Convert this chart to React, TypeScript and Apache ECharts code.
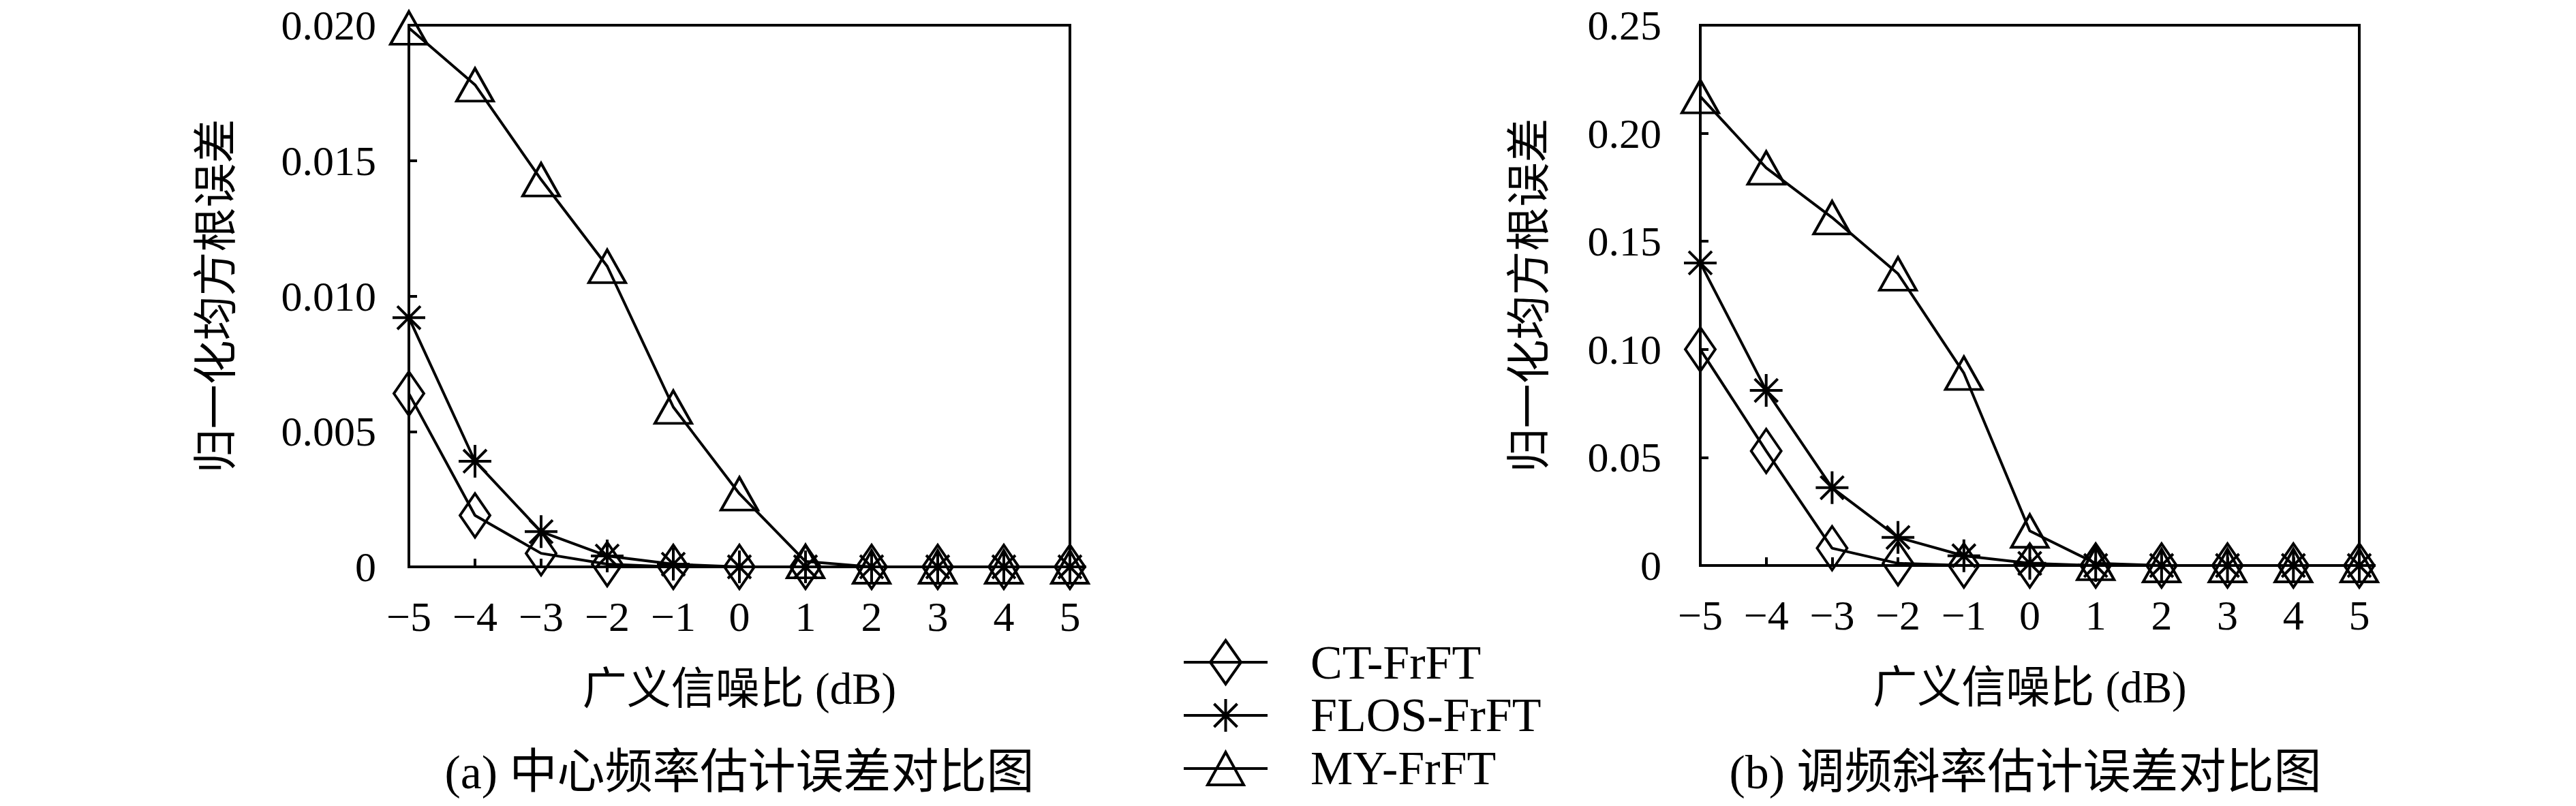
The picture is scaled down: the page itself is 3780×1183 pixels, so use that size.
import React, { useEffect, useRef } from "react";
import * as echarts from "echarts";

const snr = [-5, -4, -3, -2, -1, 0, 1, 2, 3, 4, 5];
const seriesNames = ["CT-FrFT", "FLOS-FrFT", "MY-FrFT"];

// (a) centre frequency estimation error
const ctA = [0.0064, 0.0019, 0.0005, 0.0001, 0, 0, 0, 0, 0, 0, 0];
const flosA = [0.0092, 0.0039, 0.0013, 0.0004, 0.0001, 0, 0, 0, 0, 0, 0];
const myA = [0.0199, 0.0178, 0.0143, 0.0111, 0.0059, 0.0027, 0.0002, 0, 0, 0, 0];

// (b) chirp rate estimation error
const ctB = [0.1, 0.053, 0.008, 0.001, 0, 0, 0, 0, 0, 0, 0];
const flosB = [0.14, 0.081, 0.036, 0.013, 0.0045, 0.001, 0, 0, 0, 0, 0];
const myB = [0.217, 0.184, 0.161, 0.135, 0.089, 0.016, 0.001, 0, 0, 0, 0];

const yTitle = "归一化均方根误差";
const xTitle = "广义信噪比 (dB)";
const captionA = "(a) 中心频率估计误差对比图";
const captionB = "(b) 调频斜率估计误差对比图";

const FONT = "'Liberation Serif', 'Noto Sans CJK SC', serif";

const ASTERISK =
  "path://M0,-1L0,1M-1,0L1,0M-0.707,-0.707L0.707,0.707M-0.707,0.707L0.707,-0.707";
const LEG_DIAMOND = "path://M0,32L123,32M61.5,0L84,32L61.5,64L39,32Z";
const LEG_ASTERISK = "path://M0,24L123,24M61.5,0L61.5,48M44.5,7L78.5,41M44.5,41L78.5,7";
const LEG_TRIANGLE = "path://M0,24L123,24M61.5,0L88,48L35,48Z";

const symbols: any[] = ["diamond", ASTERISK, "triangle"];
const symbolSizes: any[] = [
  [44, 64],
  [48, 48],
  [54, 48],
];

function pairs(vals: number[]) {
  return snr.map((x, i) => [x, vals[i]]);
}

export default function App() {
  const ref = useRef<HTMLDivElement>(null);
  useEffect(() => {
    document.body.style.margin = "0";
    if (!ref.current) return;
    const chart = echarts.init(ref.current, null, { renderer: "svg" });

    const axisLine = { show: true, onZero: false, lineStyle: { color: "#000", width: 4 } };
    const axisTick = { show: true, inside: true, length: 12, lineStyle: { color: "#000", width: 4 } };
    const labelStyle = { color: "#000", fontFamily: FONT, fontSize: 62, lineHeight: 54 };
    const nameStyle = { color: "#000", fontFamily: FONT, fontSize: 65 };

    const xAxis = (gridIndex: number) => ({
      type: "value",
      gridIndex,
      min: -5,
      max: 5,
      interval: 1,
      axisLine,
      axisTick,
      splitLine: { show: false },
      axisLabel: {
        ...labelStyle,
        margin: 46,
        formatter: (v: number) => String(v).replace("-", "\u2212"),
      },
      name: xTitle,
      nameLocation: "middle",
      nameGap: 146,
      nameTextStyle: nameStyle,
    });

    const yAxis = (gridIndex: number, max: number, interval: number, digits: number, margin: number, nameGap: number) => ({
      type: "value",
      gridIndex,
      min: 0,
      max,
      interval,
      axisLine,
      axisTick,
      splitLine: { show: false },
      axisLabel: {
        ...labelStyle,
        margin,
        formatter: (v: number) => (v === 0 ? "0" : v.toFixed(digits)),
      },
      name: yTitle,
      nameLocation: "middle",
      nameGap,
      nameRotate: 90,
      nameTextStyle: nameStyle,
    });

    const mk = (name: string, k: number, vals: number[], idx: number) => ({
      name,
      type: "line",
      xAxisIndex: idx,
      yAxisIndex: idx,
      data: pairs(vals),
      clip: false,
      symbol: symbols[k],
      symbolSize: symbolSizes[k],
      showAllSymbol: true,
      lineStyle: { color: "#000", width: 4 },
      itemStyle: { color: "rgba(0,0,0,0)", borderColor: "#000", borderWidth: 4 },
      emphasis: { disabled: true },
      z: 2 + k,
    });

    const option: any = {
      animation: false,
      backgroundColor: "#fff",
      grid: [
        { left: 600, top: 37, width: 970, height: 795, show: true, borderColor: "#000", borderWidth: 4 },
        { left: 2495, top: 37, width: 967, height: 793, show: true, borderColor: "#000", borderWidth: 4 },
      ],
      xAxis: [xAxis(0), xAxis(1)],
      yAxis: [yAxis(0, 0.02, 0.005, 3, 48, 251), yAxis(1, 0.25, 0.05, 2, 57, 219)],
      legend: {
        orient: "vertical",
        left: 1735,
        top: 937,
        height: 420,
        padding: 0,
        itemWidth: 123,
        itemHeight: 64,
        itemGap: 8,
        selectedMode: false,
        data: [
          { name: seriesNames[0], icon: LEG_DIAMOND },
          { name: seriesNames[1], icon: LEG_ASTERISK },
          { name: seriesNames[2], icon: LEG_TRIANGLE },
        ],
        itemStyle: { color: "rgba(0,0,0,0)", borderColor: "#000", borderWidth: 4 },
        textStyle: { color: "#000", fontFamily: FONT, fontSize: 70, lineHeight: 60, padding: [0, 0, 0, 58] },
      },
      graphic: [
        {
          type: "text",
          x: 1085,
          y: 1133,
          style: { text: captionA, font: `70px ${FONT}`, fill: "#000", textAlign: "center", textVerticalAlign: "middle" },
        },
        {
          type: "text",
          x: 2972,
          y: 1133,
          style: { text: captionB, font: `70px ${FONT}`, fill: "#000", textAlign: "center", textVerticalAlign: "middle" },
        },
      ],
      series: [
        mk(seriesNames[0], 0, ctA, 0),
        mk(seriesNames[1], 1, flosA, 0),
        mk(seriesNames[2], 2, myA, 0),
        mk(seriesNames[0], 0, ctB, 1),
        mk(seriesNames[1], 1, flosB, 1),
        mk(seriesNames[2], 2, myB, 1),
      ],
    };
    chart.setOption(option);
    return () => chart.dispose();
  }, []);
  return <div ref={ref} style={{ width: 3780, height: 1183 }} />;
}
